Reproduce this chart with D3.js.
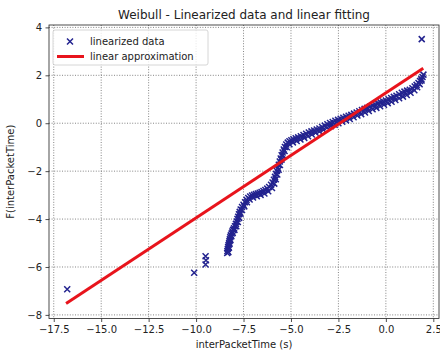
<!DOCTYPE html>
<html><head><meta charset="utf-8">
<script src="https://cdn.jsdelivr.net/npm/d3@7"></script>
<style>body{margin:0;background:#fff}svg{display:block;font-family:"DejaVu Sans",sans-serif}</style>
</head><body><svg id="c" width="440" height="354"></svg>
<script>
const title = "Weibull - Linearized data and linear fitting";
const xLabel = "interPacketTime (s)";
const yLabel = "F(interPacketTime)";
const xTicks = [-17.5, -15.0, -12.5, -10.0, -7.5, -5.0, -2.5, 0.0, 2.5];
const yTicks = [-8, -6, -4, -2, 0, 2, 4];
const legendLabels = ["linearized data", "linear approximation"];
// linearized data: x = ln(t), y = ln(-ln(1-F))
const dataX = [-16.79,-10.1,-9.5,-9.48,-9.5,
-8.36,-8.35,-8.33,-8.31,-8.29,-8.26,-8.24,-8.22,-8.2,-8.17,-8.13,-8.09,-8.05,-8.0,-7.95,-7.9,-7.86,-7.82,-7.78,-7.74,-7.7,-7.65,-7.58,-7.5,-7.42,-7.34,-7.25,-7.15,-7.05,-6.95,-6.85,-6.75,-6.65,-6.55,-6.45,-6.35,-6.25,-6.15,-6.05,-5.97,-5.9,-5.84,-5.79,-5.74,-5.69,-5.64,-5.59,-5.54,-5.49,-5.44,-5.38,-5.32,-5.25,-5.17,-5.08,-4.98,-4.87,-4.75,-4.62,-4.48,-4.34,-4.2,-4.06,-3.92,-3.78,-3.64,-3.5,-3.36,-3.22,-3.08,-2.94,-2.8,-2.66,-2.52,-2.38,-2.24,-2.1,-1.96,-1.82,-1.68,-1.54,-1.4,-1.26,-1.12,-0.98,-0.84,-0.7,-0.56,-0.42,-0.28,-0.14,0.0,0.14,0.28,0.42,0.56,0.7,0.84,0.98,1.12,1.26,1.4,1.52,1.62,1.72,1.8,1.87,1.93,1.98,
1.89,
-8.3,-8.27,-8.24,-8.19,-8.14,-8.07,-7.98,-7.88,-7.8,-7.73,-7.66,-7.58,-7.46,-7.32,-7.18,-7.0,-6.8,-6.6,-6.4,-6.2,-6.0,-5.88,-5.8,-5.72,-5.65,-5.58,-5.5,-5.42,-5.34,-5.22,-5.08,-4.9,-4.7,-4.5,-4.3,-4.1,-3.9,-3.7,-3.5,-3.3,-3.1,-2.9,-2.7,-2.5,-2.3,-2.1,-1.9,-1.7,-1.5,-1.3,-1.1,-0.9,-0.7,-0.5,-0.3,-0.1,0.1,0.3,0.5,0.7,0.9,1.1,1.3,1.5,1.65,1.78,1.88];
const dataY = [-6.93,-6.24,-5.9,-5.72,-5.55,
-5.42,-5.33,-5.25,-5.16,-5.08,-5.0,-4.92,-4.84,-4.76,-4.68,-4.6,-4.52,-4.45,-4.38,-4.3,-4.2,-4.1,-4.0,-3.9,-3.8,-3.7,-3.6,-3.5,-3.4,-3.3,-3.2,-3.12,-3.06,-3.02,-2.99,-2.96,-2.93,-2.9,-2.87,-2.83,-2.79,-2.73,-2.66,-2.57,-2.47,-2.36,-2.24,-2.12,-1.99,-1.86,-1.73,-1.6,-1.47,-1.34,-1.22,-1.1,-0.99,-0.89,-0.81,-0.75,-0.71,-0.67,-0.63,-0.59,-0.54,-0.49,-0.44,-0.39,-0.34,-0.3,-0.26,-0.22,-0.16,-0.1,-0.04,0.01,0.05,0.1,0.14,0.19,0.23,0.27,0.31,0.35,0.4,0.45,0.5,0.55,0.6,0.64,0.69,0.74,0.78,0.83,0.87,0.91,0.95,1.0,1.05,1.1,1.15,1.21,1.27,1.32,1.36,1.4,1.46,1.53,1.6,1.68,1.76,1.84,1.93,2.03,
3.51,
-5.38,-5.2,-5.04,-4.88,-4.72,-4.58,-4.45,-4.3,-4.12,-3.95,-3.78,-3.62,-3.47,-3.3,-3.18,-3.1,-3.05,-2.99,-2.93,-2.84,-2.7,-2.52,-2.34,-2.14,-1.94,-1.74,-1.52,-1.34,-1.16,-1.0,-0.88,-0.8,-0.74,-0.68,-0.61,-0.54,-0.47,-0.4,-0.34,-0.27,-0.19,-0.12,-0.06,0.0,0.06,0.12,0.18,0.25,0.32,0.38,0.45,0.51,0.58,0.64,0.71,0.77,0.84,0.9,0.97,1.04,1.11,1.18,1.27,1.38,1.5,1.63,1.78];
const fitX = [-16.85, 1.97];
const fitY = [-7.52, 2.29];

const svg = d3.select("#c");
const L = 49, R = 439, T = 25, B = 318.5;
const x = d3.scaleLinear().domain([-17.75, 2.8]).range([L, R]);
const y = d3.scaleLinear().domain([-8.15, 4.1]).range([B, T]);
const blue = "#23238f", red = "#e8141c";

// grid
const g = svg.append("g");
g.selectAll(".gx").data(xTicks).join("line")
  .attr("x1", d => x(d)).attr("x2", d => x(d)).attr("y1", T).attr("y2", B)
  .attr("stroke", "#666").attr("stroke-width", 0.8).attr("stroke-dasharray", "1,1.6");
g.selectAll(".gy").data(yTicks).join("line")
  .attr("y1", d => y(d)).attr("y2", d => y(d)).attr("x1", L).attr("x2", R)
  .attr("stroke", "#666").attr("stroke-width", 0.8).attr("stroke-dasharray", "1,1.6");

// data
const pts = dataX.map((d, i) => [d, dataY[i]]);
const s = 3;
const mk = svg.append("g").attr("stroke", blue).attr("stroke-width", 1.5).attr("fill", "none");
mk.selectAll("path").data(pts).join("path")
  .attr("d", d => {
    const cx = x(d[0]), cy = y(d[1]);
    return `M${cx-s},${cy-s}L${cx+s},${cy+s}M${cx-s},${cy+s}L${cx+s},${cy-s}`;
  });

// fit line
svg.append("path").datum(fitX.map((d, i) => [d, fitY[i]]))
  .attr("d", d3.line().x(d => x(d[0])).y(d => y(d[1])))
  .attr("stroke", red).attr("stroke-width", 3).attr("fill", "none");

// axes
const fmtX = d => d3.format(".1f")(d).replace("-", "\u2212");
const fmtY = d => String(d).replace("-", "\u2212");
const ax = svg.append("g").attr("transform", `translate(0,${B})`)
  .call(d3.axisBottom(x).tickValues(xTicks).tickFormat(fmtX).tickSize(3.5).tickPadding(3.5));
const ay = svg.append("g").attr("transform", `translate(${L},0)`)
  .call(d3.axisLeft(y).tickValues(yTicks).tickFormat(fmtY).tickSize(3.5).tickPadding(3.5));
[ax, ay].forEach(a => {
  a.select(".domain").remove();
  a.selectAll("text").attr("font-size", 10).attr("fill", "#222").attr("font-family", "DejaVu Sans");
  a.selectAll("line").attr("stroke", "#222").attr("stroke-width", 0.8);
});
svg.append("rect").attr("x", L).attr("y", T).attr("width", R - L).attr("height", B - T)
  .attr("fill", "none").attr("stroke", "#222").attr("stroke-width", 0.8);

// labels
svg.append("text").attr("x", (L + R) / 2).attr("y", 19).attr("text-anchor", "middle")
  .attr("font-size", 12).attr("fill", "#222").text(title);
svg.append("text").attr("x", (L + R) / 2).attr("y", 348).attr("text-anchor", "middle")
  .attr("font-size", 10).attr("fill", "#222").text(xLabel);
svg.append("text").attr("transform", `translate(14,${(T + B) / 2}) rotate(-90)`).attr("text-anchor", "middle")
  .attr("font-size", 10).attr("fill", "#222").text(yLabel);

// legend
const lg = svg.append("g");
lg.append("rect").attr("x", 53).attr("y", 30).attr("width", 155).attr("height", 35).attr("rx", 2)
  .attr("fill", "#fff").attr("fill-opacity", 0.8).attr("stroke", "#ccc").attr("stroke-width", 0.8);
const lx = 70, ly1 = 41.5, ly2 = 56.5;
lg.append("path").attr("d", `M${lx-s},${ly1-s}L${lx+s},${ly1+s}M${lx-s},${ly1+s}L${lx+s},${ly1-s}`)
  .attr("stroke", blue).attr("stroke-width", 1.5);
lg.append("line").attr("x1", 57).attr("x2", 84).attr("y1", ly2).attr("y2", ly2)
  .attr("stroke", red).attr("stroke-width", 3);
lg.selectAll("text.l").data(legendLabels).join("text")
  .attr("x", 90).attr("y", (d, i) => (i ? ly2 : ly1) + 3.5)
  .attr("font-size", 10).attr("fill", "#222").text(d => d);
</script></body></html>
